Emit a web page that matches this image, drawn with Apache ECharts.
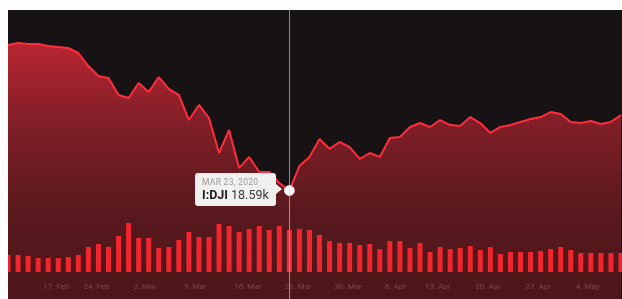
<!DOCTYPE html>
<html>
<head>
<meta charset="utf-8">
<script src="https://cdn.jsdelivr.net/npm/echarts@6/dist/echarts.min.js"></script>
<style>
  html, body { margin: 0; padding: 0; background: #fdfdfd; }
  #main { position: absolute; left: 8px; top: 10px; width: 614px; height: 289px; background: #171213; }
</style>
</head>
<body>
<div id="main"></div>
<script>
// trading days shown on the chart
var days = [
  '2020-02-11','2020-02-12','2020-02-13','2020-02-14',
  '2020-02-18','2020-02-19','2020-02-20','2020-02-21',
  '2020-02-24','2020-02-25','2020-02-26','2020-02-27','2020-02-28',
  '2020-03-02','2020-03-03','2020-03-04','2020-03-05','2020-03-06',
  '2020-03-09','2020-03-10','2020-03-11','2020-03-12','2020-03-13',
  '2020-03-16','2020-03-17','2020-03-18','2020-03-19','2020-03-20',
  '2020-03-23','2020-03-24','2020-03-25','2020-03-26','2020-03-27',
  '2020-03-30','2020-03-31','2020-04-01','2020-04-02','2020-04-03',
  '2020-04-06','2020-04-07','2020-04-08','2020-04-09',
  '2020-04-13','2020-04-14','2020-04-15','2020-04-16','2020-04-17',
  '2020-04-20','2020-04-21','2020-04-22','2020-04-23','2020-04-24',
  '2020-04-27','2020-04-28','2020-04-29','2020-04-30','2020-05-01',
  '2020-05-04','2020-05-05','2020-05-06','2020-05-07','2020-05-08'
];

// index close (points)
var closes = [
  29320, 29470, 29390, 29390,
  29250, 29170, 29100, 28730,
  27770, 27040, 26890, 25640, 25410,
  26520, 25860, 26960, 26080, 25640,
  23790, 24900, 23940, 21360, 23060,
  20260, 21070, 19960, 19960, 19150,
  18590, 20400, 21070, 22390, 21660,
  22170, 21800, 20920, 21360, 21070,
  22470, 22540, 23280, 23570,
  23280, 23790, 23420, 23350, 24010,
  23570, 22840, 23280, 23420, 23650,
  23870, 24010, 24380, 24240, 23650,
  23570, 23720, 23500, 23650, 24160
];

// volume (millions)
var volumes = [
  255, 255, 240, 210,
  210, 210, 225, 255,
  375, 420, 375, 540, 735,
  510, 510, 360, 375, 480,
  600, 525, 525, 720, 690,
  600, 645, 690, 630, 690,
  630, 645, 630, 555, 465,
  435, 435, 405, 420, 345,
  465, 465, 360, 435,
  300, 375, 345, 360, 390,
  330, 375, 270, 300, 300,
  300, 315, 345, 375, 330,
  285, 285, 285, 285, 285
];

// week ticks (first trading day of the week) and their labels
var weekStarts = ['2020-02-18','2020-02-24','2020-03-02','2020-03-09','2020-03-16','2020-03-23',
                  '2020-03-30','2020-04-06','2020-04-13','2020-04-20','2020-04-27','2020-05-04'];
var weekLabels = ['17. Feb','24. Feb','2. Mar','9. Mar','16. Mar','23. Mar',
                  '30. Mar','6. Apr','13. Apr','20. Apr','27. Apr','4. May'];

var hoverIndex = days.indexOf('2020-03-23');

var lineData = closes.map(function (v, i) {
  if (i === hoverIndex) {
    return { value: v, symbol: 'circle', symbolSize: 9,
             itemStyle: { color: '#ffffff', borderColor: '#ffd9dc', borderWidth: 1 } };
  }
  return v;
});

var chart = echarts.init(document.getElementById('main'));

var option = {
  animation: false,
  backgroundColor: 'transparent',
  grid: { left: 0, right: 1, top: 0, bottom: 0, containLabel: false },
  tooltip: {
    trigger: 'axis',
    triggerOn: 'none',
    alwaysShowContent: true,
    transitionDuration: 0,
    backgroundColor: '#f2f0ee',
    borderWidth: 0,
    borderRadius: 3,
    padding: [4, 7, 4, 7],
    extraCssText: 'box-shadow:none;overflow:visible;',
    axisPointer: {
      type: 'line',
      lineStyle: { color: 'rgba(230,215,215,0.6)', width: 1, type: 'solid' }
    },
    position: function () { return [187, 163]; },
    formatter: function (params) {
      var p = params[0];
      var v = closes[p.dataIndex];
      // small pointer on the right edge, positioned against the tooltip box itself
      return '<span style="position:absolute;right:-6px;top:11px;width:0;height:0;' +
        'border-top:5px solid transparent;border-bottom:5px solid transparent;' +
        'border-left:6px solid #f2f0ee"></span>' +
        '<div style="font-family:Roboto,sans-serif;line-height:1.2">' +
        '<div style="font-size:8.5px;color:#9a9a9a;letter-spacing:0.3px">MAR 23, 2020</div>' +
        '<div style="font-size:12.5px;color:#3a3a3a"><b style="color:#1c1c1c">I:DJI</b> ' +
        (v / 1000).toFixed(2) + 'k</div>' +
        '</div>';
    }
  },
  xAxis: {
    type: 'category',
    data: days,
    boundaryGap: false,
    axisLine: { show: false },
    axisTick: { show: false },
    splitLine: { show: false },
    axisLabel: {
      inside: true,
      margin: 8,
      align: 'left',
      padding: [0, 0, 0, -5],
      color: 'rgba(235,205,205,0.75)',
      fontFamily: 'Roboto',
      fontSize: 8,
      interval: function (i, value) { return weekStarts.indexOf(value) >= 0; },
      formatter: function (value) {
        var k = weekStarts.indexOf(value);
        return k >= 0 ? weekLabels[k] : '';
      }
    }
  },
  yAxis: [
    {
      type: 'value', min: 10600, max: 31900,
      show: false, splitLine: { show: false }
    },
    {
      type: 'value', min: -405, max: 3930,
      show: false, splitLine: { show: false }
    }
  ],
  series: [
    {
      name: 'I:DJI',
      type: 'line',
      data: lineData,
      yAxisIndex: 0,
      symbol: 'none',
      z: 3,
      lineStyle: { color: '#ff2a38', width: 2 },
      areaStyle: {
        color: new echarts.graphic.LinearGradient(0, 0, 0, 1, [
          { offset: 0, color: '#e62a3a' },
          { offset: 0.3, color: '#a2222e' },
          { offset: 0.65, color: '#6b1a20' },
          { offset: 1, color: '#5a171a' }
        ])
      }
    },
    {
      name: 'Volume',
      type: 'bar',
      data: volumes,
      yAxisIndex: 1,
      barWidth: 5,
      z: 4,
      itemStyle: { color: '#f0252e' }
    }
  ]
};

chart.setOption(option);
chart.dispatchAction({ type: 'showTip', seriesIndex: 0, dataIndex: hoverIndex });
</script>
</body>
</html>
